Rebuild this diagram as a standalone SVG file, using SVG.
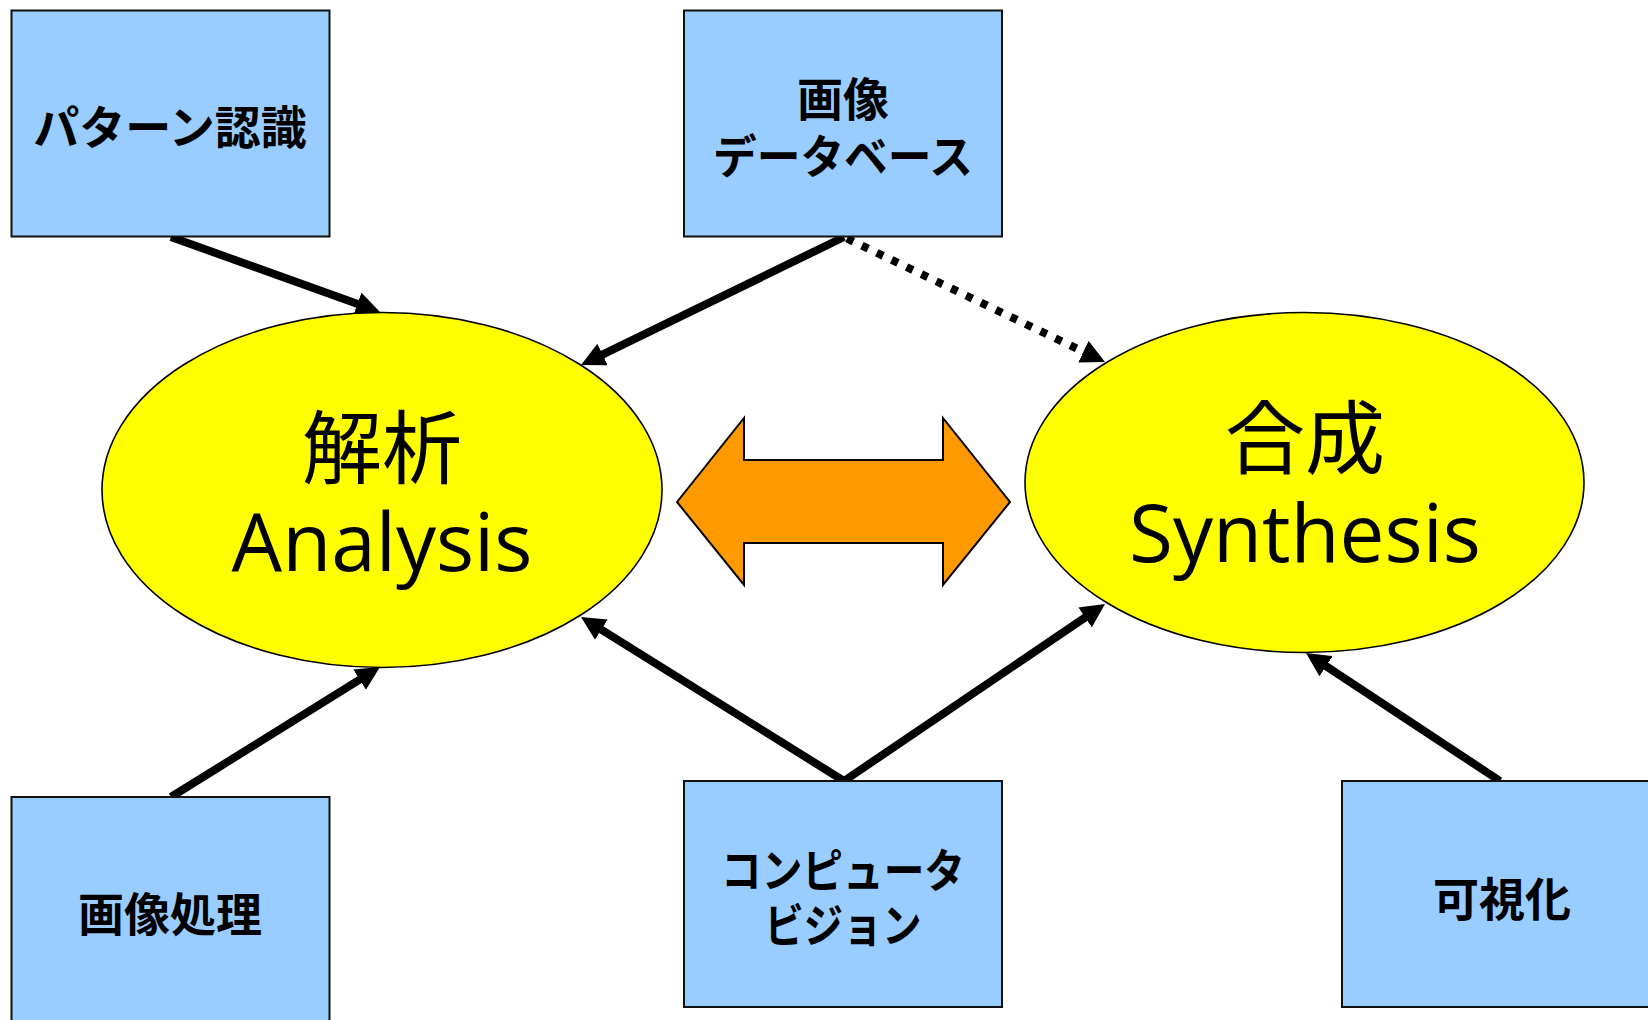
<svg xmlns="http://www.w3.org/2000/svg" width="1648" height="1020" viewBox="0 0 1648 1020">
<style>
.box{fill:#99CCFF;stroke:#111;stroke-width:2}
.ell{fill:#FFFF00;stroke:#000;stroke-width:1.6}
.bl{font-family:"Noto Sans CJK JP","Noto Sans CJK SC",sans-serif;font-weight:700;font-size:46px;fill:#000;text-anchor:middle}
.cj{font-family:"Noto Sans CJK JP","Noto Sans CJK SC",sans-serif;font-weight:400;font-size:80px;fill:#000;text-anchor:middle}
.en{font-family:"Open Sans","Noto Sans",sans-serif;font-size:80px;fill:#000;text-anchor:middle}
.ln{stroke:#000;stroke-width:8;fill:none;marker-end:url(#ah)}
.dot{stroke-dasharray:7 9.5}
</style>
<defs>
<marker id="ah" markerUnits="userSpaceOnUse" markerWidth="24" markerHeight="24" refX="10" refY="12" orient="auto" viewBox="0 0 24 24">
<path d="M0,0 L24,12 L0,24 z" fill="#000"/>
</marker>
</defs>
<g id="connectors">
<line class="ln" x1="171" y1="237" x2="366.8" y2="307.3"/>
<line class="ln" x1="844" y1="237" x2="593.6" y2="358.9"/>
<line class="ln dot" x1="847" y1="238.5" x2="1092.4" y2="356"/>
<line class="ln" x1="171" y1="797" x2="368.1" y2="674.4"/>
<line class="ln" x1="844" y1="781" x2="592.9" y2="624.4"/>
<line class="ln" x1="844" y1="781" x2="1093.4" y2="611.9"/>
<line class="ln" x1="1500" y1="781" x2="1317.7" y2="660.7"/>
</g>
<g id="node-pattern">
<rect class="box" x="11.5" y="10.5" width="318" height="226"/>
<text class="bl" x="170" y="144">パターン認識</text>
</g>
<g id="node-imagedb">
<rect class="box" x="684" y="10.5" width="318" height="226"/>
<text class="bl" x="843" y="116">画像</text>
<text class="bl" x="843" y="173" textLength="260" lengthAdjust="spacingAndGlyphs">データベース</text>
</g>
<g id="node-imageproc">
<rect class="box" x="11.5" y="797" width="318" height="240"/>
<text class="bl" x="170" y="931">画像処理</text>
</g>
<g id="node-cv">
<rect class="box" x="684" y="781" width="318" height="226"/>
<text class="bl" x="843" y="887" textLength="244" lengthAdjust="spacingAndGlyphs">コンピュータ</text>
<text class="bl" x="843" y="942" textLength="157" lengthAdjust="spacingAndGlyphs">ビジョン</text>
</g>
<g id="node-vis">
<rect class="box" x="1342" y="781" width="320" height="226"/>
<text class="bl" x="1502" y="916">可視化</text>
</g>
<g id="node-analysis">
<ellipse class="ell" cx="382" cy="490" rx="280" ry="177.5"/>
<text class="cj" x="382" y="477">解析</text>
<text class="en" x="382" y="571">Analysis</text>
</g>
<g id="node-synthesis">
<ellipse class="ell" cx="1304.5" cy="482.5" rx="279.5" ry="170"/>
<text class="cj" x="1305" y="467">合成</text>
<text class="en" x="1305" y="562">Synthesis</text>
</g>
<g id="node-bidir">
<path d="M677,502 L744,418 L744,460 L943,460 L943,418 L1010,502 L943,585 L943,543 L744,543 L744,585 z" fill="#FF9900" stroke="#000" stroke-width="2" stroke-linejoin="miter"/>
</g>
</svg>
